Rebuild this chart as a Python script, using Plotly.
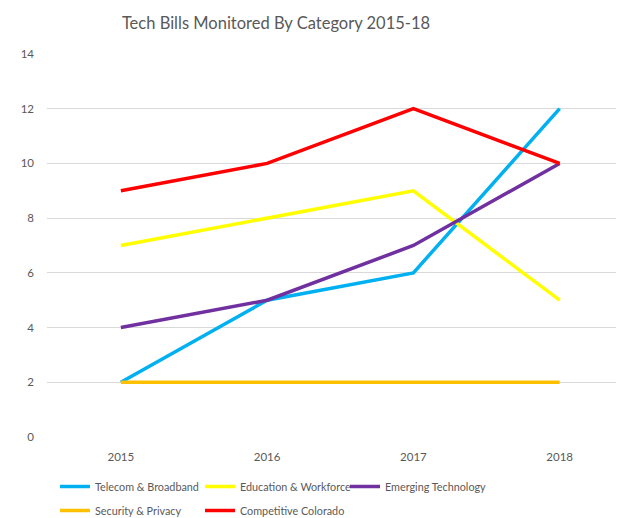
import plotly.graph_objects as go

years = ["2015", "2016", "2017", "2018"]
telecom = [2, 5, 6, 12]
education = [7, 8, 9, 5]
emerging = [4, 5, 7, 10]
security = [2, 2, 2, 2]
competitive = [9, 10, 12, 10]

series = [
    ("Telecom & Broadband", telecom, "#00B0F0", "legend"),
    ("Education & Workforce", education, "#FFFF00", "legend"),
    ("Emerging Technology", emerging, "#7030A0", "legend"),
    ("Security & Privacy", security, "#FFC000", "legend2"),
    ("Competitive Colorado", competitive, "#FF0000", "legend2"),
]

W, H = 616, 510  # page body has an 8px margin

fig = go.Figure()
for name, vals, col, leg in series:
    fig.add_trace(go.Scatter(x=years, y=vals, name=name, mode="lines", legend=leg,
                             line=dict(color=col, width=3.5)))

leg_common = dict(orientation="h", xref="container", yref="container", x=47/W,
                  xanchor="left", yanchor="top", entrywidth=100, entrywidthmode="pixels",
                  itemwidth=30, tracegroupgap=0, font=dict(size=10.8, color="#595959"),
                  bgcolor="rgba(0,0,0,0)")

fig.update_layout(
    width=W, height=H,
    paper_bgcolor="white", plot_bgcolor="white",
    margin=dict(l=39, r=0, t=46, b=81, autoexpand=False),
    font=dict(family="Lato, Open Sans, sans-serif", color="#595959", size=12),
    title=dict(text="Tech Bills Monitored By Category 2015-18", x=268/W, xanchor="center",
               xref="container", y=1 - 15/H, yanchor="middle", yref="container",
               pad=dict(t=0, b=0), font=dict(size=16.5, color="#595959")),
    xaxis=dict(type="category", range=[-0.505, 3.44], showgrid=False, zeroline=False,
               showline=False, ticks="", ticklabelstandoff=11,
               tickfont=dict(size=11.5, color="#595959")),
    yaxis=dict(range=[0, 14], dtick=2, showgrid=True, gridcolor="#D9D9D9", gridwidth=1,
               zeroline=False, showline=False, ticks="", ticklabelstandoff=12,
               tickfont=dict(size=11.5, color="#595959")),
    legend=dict(y=1 - 464/H, **leg_common),
    legend2=dict(y=1 - 488/H, **leg_common),
    showlegend=True,
)

fig.write_html("out.html")
